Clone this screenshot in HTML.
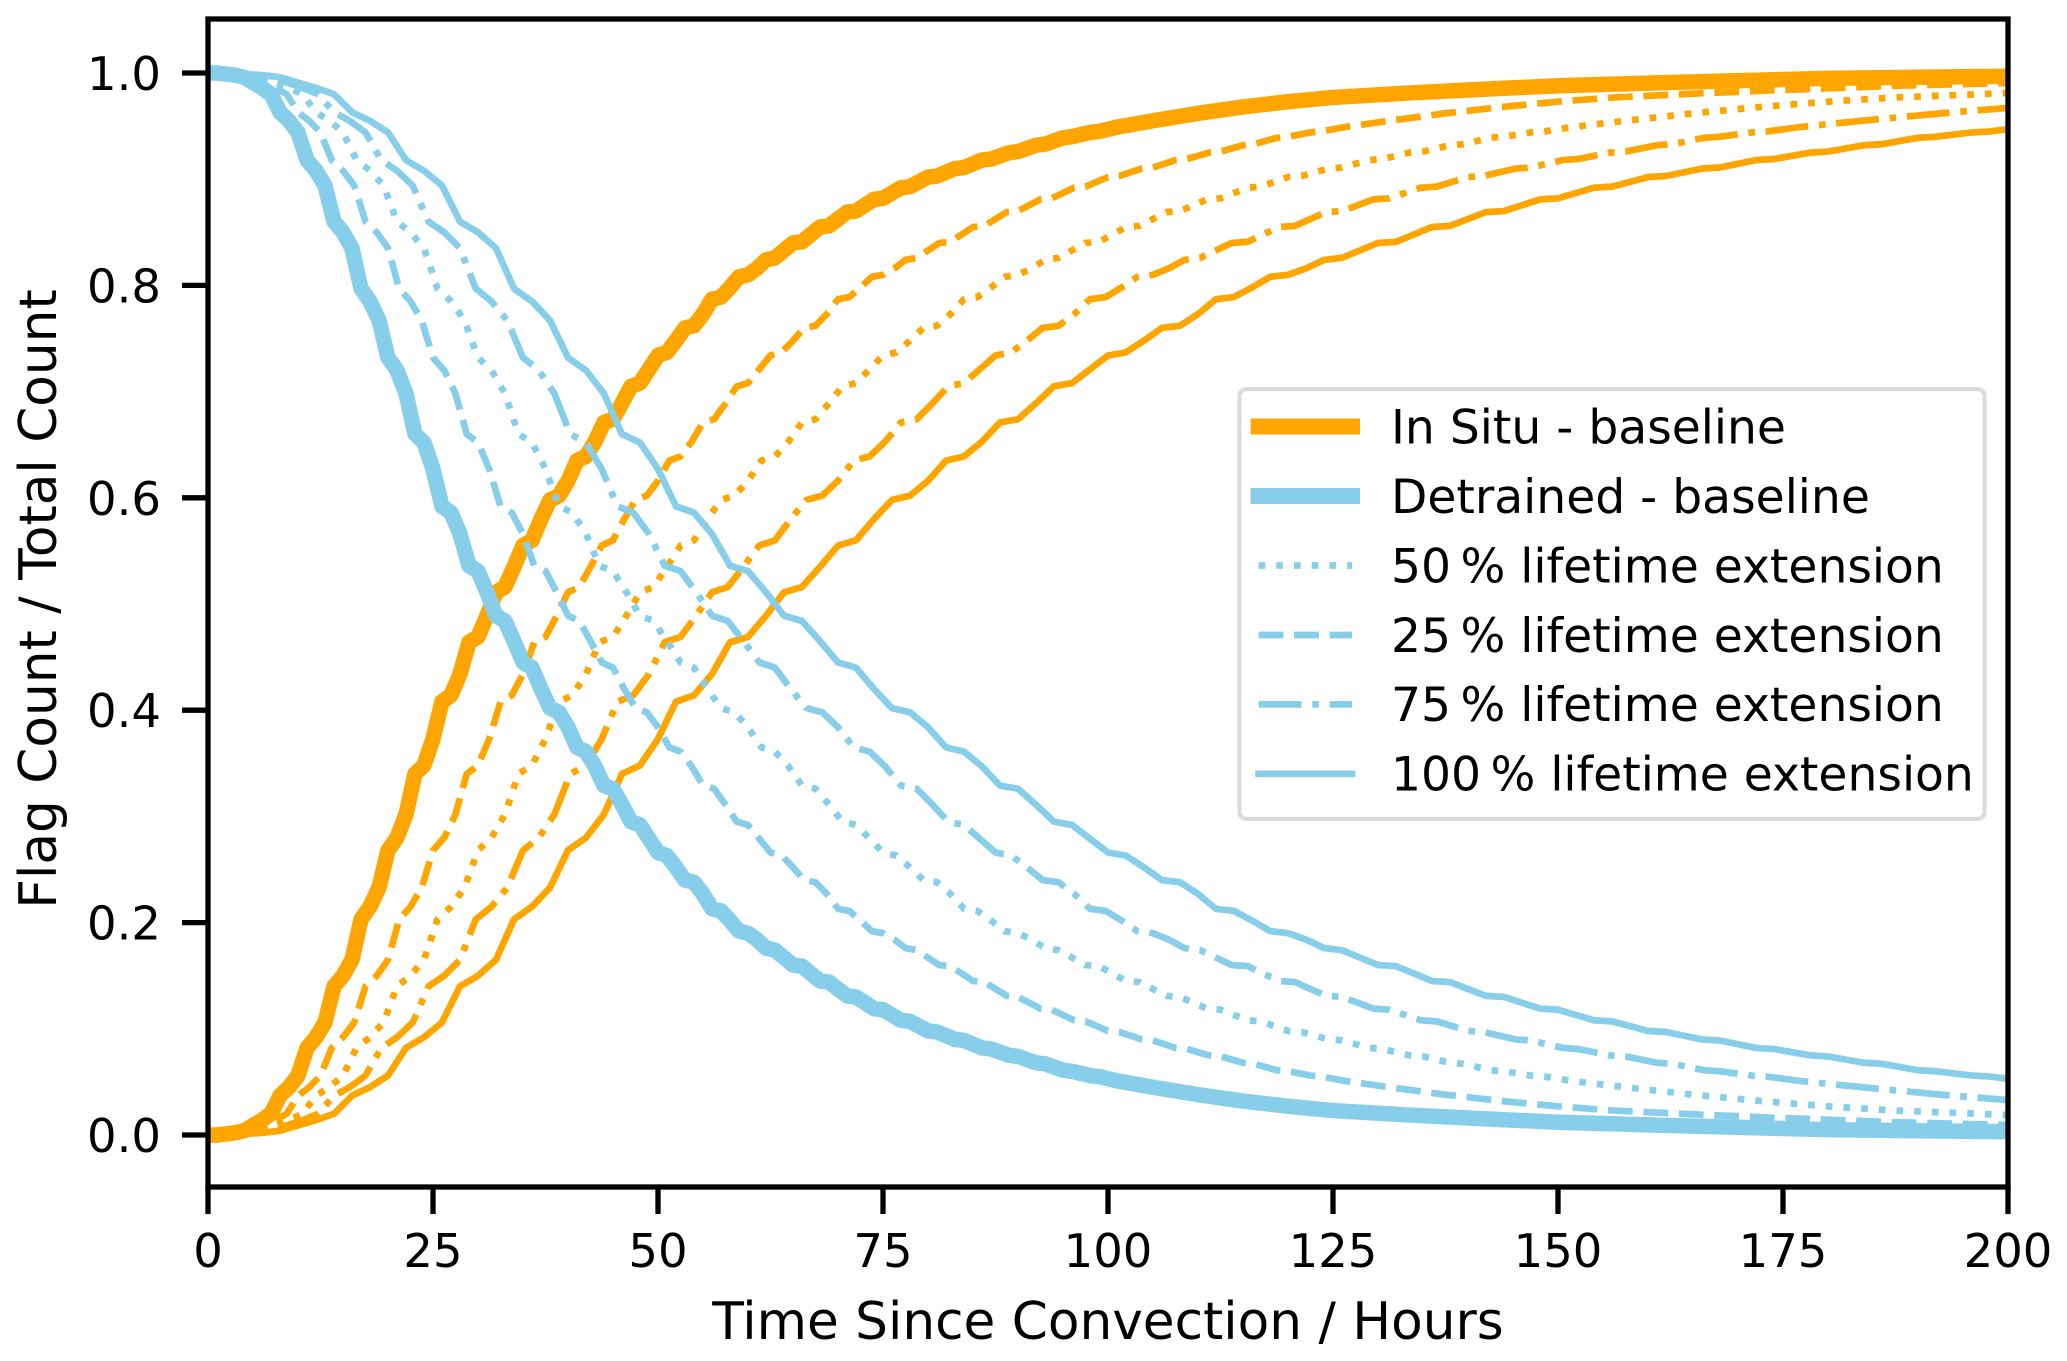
<!DOCTYPE html>
<html lang="en">
<head>
<meta charset="utf-8">
<title>Flag Count / Total Count vs Time Since Convection</title>
<style>
html,body{margin:0;padding:0;background:#fff;}
svg{display:block;}
text{font-family:"DejaVu Sans","Liberation Sans",sans-serif;fill:#000;}
.tick-text{font-size:46.5px;}
.axis-title{font-size:51.7px;}
.legend-text{font-size:47.2px;}
</style>
</head>
<body>
<svg id="chart" xmlns="http://www.w3.org/2000/svg" width="2067" height="1361" viewBox="0 0 2067 1361">
  <defs><clipPath id="plot-clip"><rect x="208" y="19" width="1800" height="1168"></rect></clipPath></defs>
  <rect x="0" y="0" width="2067" height="1361" fill="#fff"></rect>
  <g id="series-layer" clip-path="url(#plot-clip)"></g>
  <g id="tick-layer"></g>
  <rect x="208" y="19" width="1800" height="1168" fill="none" stroke="#000" stroke-width="5.3"></rect>
  <text class="axis-title" x="1108" y="1339" text-anchor="middle">Time Since Convection / Hours</text>
  <text class="axis-title" transform="translate(56,599) rotate(-90)" text-anchor="middle">Flag Count / Total Count</text>
  <g>
    <rect x="1239.5" y="389" width="745" height="430" rx="7" ry="7" fill="#fff" fill-opacity="0.8" stroke="#dadada" stroke-width="4"></rect>
    <g>
      <line x1="1258.6" x2="1352" y1="426.5" y2="426.5" stroke="#ffa500" stroke-width="16" stroke-linecap="square"></line>
      <text class="legend-text" x="1391" y="443.5">In Situ - baseline</text>
    </g>
    <g>
      <line x1="1258.6" x2="1352" y1="496" y2="496" stroke="#87ceeb" stroke-width="16" stroke-linecap="square"></line>
      <text class="legend-text" x="1391" y="513">Detrained - baseline</text>
    </g>
    <g>
      <line x1="1258.6" x2="1352" y1="565.5" y2="565.5" stroke="#87ceeb" stroke-width="6.7" stroke-dasharray="6.7 11"></line>
      <text class="legend-text" x="1391" y="582.4">50&#8201;% lifetime extension</text>
    </g>
    <g>
      <line x1="1258.6" x2="1352" y1="635" y2="635" stroke="#87ceeb" stroke-width="6.7" stroke-dasharray="24.8 10.7"></line>
      <text class="legend-text" x="1391" y="651.8">25&#8201;% lifetime extension</text>
    </g>
    <g>
      <line x1="1258.6" x2="1352" y1="704.4" y2="704.4" stroke="#87ceeb" stroke-width="6.7" stroke-dasharray="42.9 10.7 6.7 10.7"></line>
      <text class="legend-text" x="1391" y="721.2">75&#8201;% lifetime extension</text>
    </g>
    <g>
      <line x1="1258.6" x2="1352" y1="773.8" y2="773.8" stroke="#87ceeb" stroke-width="6.7" stroke-linecap="square"></line>
      <text class="legend-text" x="1391" y="790.6">100&#8201;% lifetime extension</text>
    </g>
  </g>
</svg>
<script>
const xTickLabels = ["0","25","50","75","100","125","150","175","200"];
const yTickLabels = ["0.0","0.2","0.4","0.6","0.8","1.0"];

const hoursBase = [0,1,2,3,4,5,6,7,8,9,10,11,12,13,14,15,16,17,18,19,20,21,22,23,24,25,26,27,28,29,30,31,32,33,34,35,36,37,38,39,40,41,42,43,44,45,46,47,48,49,50,51,52,53,54,55,56,57,58,59,60,61,62,63,65,66,68,69,71,72,74,75,77,78,80,81,83,84,86,87,89,90,92,93,95,96,98,99,101,105,110,115,120,125,133,140,150,160,180,200];
const hours25 = [0,1.25,2.5,3.75,5,6.25,7.5,8.75,10,11.25,12.5,13.75,15,16.25,17.5,18.75,20,21.25,22.5,23.75,25,26.25,27.5,28.75,30,31.25,32.5,33.75,35,36.25,37.5,38.75,40,41.25,42.5,43.75,45,46.25,47.5,48.75,50,51.25,52.5,53.75,55,56.25,57.5,58.75,60,61.25,62.5,63.75,65,66.25,67.5,68.75,70,71.25,72.5,73.75,75,76.25,77.5,78.75,81.25,82.5,85,86.25,88.75,90,92.5,93.75,96.25,97.5,100,101.25,103.75,105,107.5,108.75,111.25,112.5,115,116.25,118.75,120,122.5,123.75,126.25,131.25,137.5,143.75,150,156.25,166.25,175,187.5,200];
const hours50 = [0,1.5,3,4.5,6,7.5,9,10.5,12,13.5,15,16.5,18,19.5,21,22.5,24,25.5,27,28.5,30,31.5,33,34.5,36,37.5,39,40.5,42,43.5,45,46.5,48,49.5,51,52.5,54,55.5,57,58.5,60,61.5,63,64.5,66,67.5,69,70.5,72,73.5,75,76.5,78,79.5,81,82.5,84,85.5,87,88.5,90,91.5,93,94.5,97.5,99,102,103.5,106.5,108,111,112.5,115.5,117,120,121.5,124.5,126,129,130.5,133.5,135,138,139.5,142.5,144,147,148.5,151.5,157.5,165,172.5,180,187.5,199.5,210];
const hours75 = [0,1.75,3.5,5.25,7,8.75,10.5,12.25,14,15.75,17.5,19.25,21,22.75,24.5,26.25,28,29.75,31.5,33.25,35,36.75,38.5,40.25,42,43.75,45.5,47.25,49,50.75,52.5,54.25,56,57.75,59.5,61.25,63,64.75,66.5,68.25,70,71.75,73.5,75.25,77,78.75,80.5,82.25,84,85.75,87.5,89.25,91,92.75,94.5,96.25,98,99.75,101.5,103.25,105,106.75,108.5,110.25,113.75,115.5,119,120.75,124.25,126,129.5,131.25,134.75,136.5,140,141.75,145.25,147,150.5,152.25,155.75,157.5,161,162.75,166.25,168,171.5,173.25,176.75,183.75,192.5,201.25];
const hours100 = [0,2,4,6,8,10,12,14,16,18,20,22,24,26,28,30,32,34,36,38,40,42,44,46,48,50,52,54,56,58,60,62,64,66,68,70,72,74,76,78,80,82,84,86,88,90,92,94,96,98,100,102,104,106,108,110,112,114,116,118,120,122,124,126,130,132,136,138,142,144,148,150,154,156,160,162,166,168,172,174,178,180,184,186,190,192,196,198,202];

const inSituBaseline = [0,0,.001,.002,.004,.009,.014,.020,.037,.045,.056,.082,.092,.106,.140,.150,.165,.203,.215,.233,.268,.280,.302,.340,.348,.373,.408,.414,.434,.464,.469,.489,.511,.516,.535,.555,.560,.580,.598,.602,.616,.635,.639,.653,.671,.674,.689,.705,.708,.721,.734,.737,.748,.760,.762,.773,.787,.789,.798,.808,.810,.816,.824,.826,.840,.841,.855,.856,.869,.870,.881,.882,.892,.893,.902,.903,.910,.911,.918,.919,.925,.926,.932,.933,.939,.940,.944,.945,.949,.955,.962,.968,.973,.977,.981,.984,.988,.9905,.995,.997];
const inSitu25 = [0,0,.001,.002,.004,.009,.014,.020,.037,.045,.056,.082,.092,.106,.140,.150,.165,.203,.215,.233,.268,.280,.302,.340,.348,.373,.408,.414,.434,.464,.469,.489,.511,.516,.535,.555,.560,.580,.598,.602,.616,.635,.639,.653,.671,.674,.689,.705,.708,.721,.734,.737,.748,.760,.762,.773,.787,.789,.798,.808,.810,.816,.824,.826,.840,.841,.855,.856,.869,.870,.881,.882,.892,.893,.902,.903,.910,.911,.918,.919,.925,.926,.932,.933,.939,.940,.944,.945,.949,.955,.962,.968,.973,.977,.981,.984,.988,.9905];
const inSitu50 = [0,0,.001,.002,.004,.009,.014,.020,.037,.045,.056,.082,.092,.106,.140,.150,.165,.203,.215,.233,.268,.280,.302,.340,.348,.373,.408,.414,.434,.464,.469,.489,.511,.516,.535,.555,.560,.580,.598,.602,.616,.635,.639,.653,.671,.674,.689,.705,.708,.721,.734,.737,.748,.760,.762,.773,.787,.789,.798,.808,.810,.816,.824,.826,.840,.841,.855,.856,.869,.870,.881,.882,.892,.893,.902,.903,.910,.911,.918,.919,.925,.926,.932,.933,.939,.940,.944,.945,.949,.955,.962,.968,.973,.977,.981,.984];
const inSitu75 = [0,0,.001,.002,.004,.009,.014,.020,.037,.045,.056,.082,.092,.106,.140,.150,.165,.203,.215,.233,.268,.280,.302,.340,.348,.373,.408,.414,.434,.464,.469,.489,.511,.516,.535,.555,.560,.580,.598,.602,.616,.635,.639,.653,.671,.674,.689,.705,.708,.721,.734,.737,.748,.760,.762,.773,.787,.789,.798,.808,.810,.816,.824,.826,.840,.841,.855,.856,.869,.870,.881,.882,.892,.893,.902,.903,.910,.911,.918,.919,.925,.926,.932,.933,.939,.940,.944,.945,.949,.955,.962,.968];
const inSitu100 = [0,0,.001,.002,.004,.009,.014,.020,.037,.045,.056,.082,.092,.106,.140,.150,.165,.203,.215,.233,.268,.280,.302,.340,.348,.373,.408,.414,.434,.464,.469,.489,.511,.516,.535,.555,.560,.580,.598,.602,.616,.635,.639,.653,.671,.674,.689,.705,.708,.721,.734,.737,.748,.760,.762,.773,.787,.789,.798,.808,.810,.816,.824,.826,.840,.841,.855,.856,.869,.870,.881,.882,.892,.893,.902,.903,.910,.911,.918,.919,.925,.926,.932,.933,.939,.940,.944,.945,.949];

const detrainedBaseline = [1,1,.999,.998,.996,.991,.986,.980,.963,.955,.944,.918,.908,.894,.860,.850,.835,.797,.785,.767,.732,.720,.698,.660,.652,.627,.592,.586,.566,.536,.531,.511,.489,.484,.465,.445,.440,.420,.402,.398,.384,.365,.361,.347,.329,.326,.311,.295,.292,.279,.266,.263,.252,.240,.238,.227,.213,.211,.202,.192,.190,.184,.176,.174,.160,.159,.145,.144,.131,.130,.119,.118,.108,.107,.098,.097,.090,.089,.082,.081,.075,.074,.068,.067,.061,.060,.056,.055,.051,.045,.038,.032,.027,.023,.019,.016,.012,.0095,.005,.003];
const detrained25 = [1,1,.999,.998,.996,.991,.986,.980,.963,.955,.944,.918,.908,.894,.860,.850,.835,.797,.785,.767,.732,.720,.698,.660,.652,.627,.592,.586,.566,.536,.531,.511,.489,.484,.465,.445,.440,.420,.402,.398,.384,.365,.361,.347,.329,.326,.311,.295,.292,.279,.266,.263,.252,.240,.238,.227,.213,.211,.202,.192,.190,.184,.176,.174,.160,.159,.145,.144,.131,.130,.119,.118,.108,.107,.098,.097,.090,.089,.082,.081,.075,.074,.068,.067,.061,.060,.056,.055,.051,.045,.038,.032,.027,.023,.019,.016,.012,.0095];
const detrained50 = [1,1,.999,.998,.996,.991,.986,.980,.963,.955,.944,.918,.908,.894,.860,.850,.835,.797,.785,.767,.732,.720,.698,.660,.652,.627,.592,.586,.566,.536,.531,.511,.489,.484,.465,.445,.440,.420,.402,.398,.384,.365,.361,.347,.329,.326,.311,.295,.292,.279,.266,.263,.252,.240,.238,.227,.213,.211,.202,.192,.190,.184,.176,.174,.160,.159,.145,.144,.131,.130,.119,.118,.108,.107,.098,.097,.090,.089,.082,.081,.075,.074,.068,.067,.061,.060,.056,.055,.051,.045,.038,.032,.027,.023,.019,.016];
const detrained75 = [1,1,.999,.998,.996,.991,.986,.980,.963,.955,.944,.918,.908,.894,.860,.850,.835,.797,.785,.767,.732,.720,.698,.660,.652,.627,.592,.586,.566,.536,.531,.511,.489,.484,.465,.445,.440,.420,.402,.398,.384,.365,.361,.347,.329,.326,.311,.295,.292,.279,.266,.263,.252,.240,.238,.227,.213,.211,.202,.192,.190,.184,.176,.174,.160,.159,.145,.144,.131,.130,.119,.118,.108,.107,.098,.097,.090,.089,.082,.081,.075,.074,.068,.067,.061,.060,.056,.055,.051,.045,.038,.032];
const detrained100 = [1,1,.999,.998,.996,.991,.986,.980,.963,.955,.944,.918,.908,.894,.860,.850,.835,.797,.785,.767,.732,.720,.698,.660,.652,.627,.592,.586,.566,.536,.531,.511,.489,.484,.465,.445,.440,.420,.402,.398,.384,.365,.361,.347,.329,.326,.311,.295,.292,.279,.266,.263,.252,.240,.238,.227,.213,.211,.202,.192,.190,.184,.176,.174,.160,.159,.145,.144,.131,.130,.119,.118,.108,.107,.098,.097,.090,.089,.082,.081,.075,.074,.068,.067,.061,.060,.056,.055,.051];

const xScale = t => 208 + t * 9;
const yScale = v => 1135 - v * 1062;
const SVG_NS = "http://www.w3.org/2000/svg";
const ORANGE = "#ffa500";
const BLUE = "#87ceeb";
const DOTTED = "6.7 11";
const DASHED = "24.8 10.7";
const DASHDOT = "42.9 10.7 6.7 10.7";

function drawLine(name, hours, values, color, width, dash) {
  const path = document.createElementNS(SVG_NS, "path");
  let d = "";
  for (let i = 0; i < values.length; i++) {
    d += (i === 0 ? "M" : "L") + xScale(hours[i]).toFixed(2) + " " + yScale(values[i]).toFixed(2);
  }
  path.setAttribute("d", d);
  path.setAttribute("fill", "none");
  path.setAttribute("stroke", color);
  path.setAttribute("stroke-width", width);
  path.setAttribute("stroke-linejoin", "round");
  if (dash) path.setAttribute("stroke-dasharray", dash);
  
  
  document.getElementById("series-layer").appendChild(path);
}

drawLine("in-situ-100-percent-line", hours100, inSitu100, ORANGE, 6.7, null);
drawLine("in-situ-75-percent-line", hours75, inSitu75, ORANGE, 6.7, DASHDOT);
drawLine("in-situ-25-percent-line", hours25, inSitu25, ORANGE, 6.7, DASHED);
drawLine("in-situ-50-percent-line", hours50, inSitu50, ORANGE, 6.7, DOTTED);
drawLine("in-situ-baseline-line", hoursBase, inSituBaseline, ORANGE, 15.5, null);
drawLine("detrained-100-percent-line", hours100, detrained100, BLUE, 6.7, null);
drawLine("detrained-75-percent-line", hours75, detrained75, BLUE, 6.7, DASHDOT);
drawLine("detrained-25-percent-line", hours25, detrained25, BLUE, 6.7, DASHED);
drawLine("detrained-50-percent-line", hours50, detrained50, BLUE, 6.7, DOTTED);
drawLine("detrained-baseline-line", hoursBase, detrainedBaseline, BLUE, 15.5, null);

const tickLayer = document.getElementById("tick-layer");
xTickLabels.forEach(label => {
  const px = xScale(parseFloat(label));
  const tick = document.createElementNS(SVG_NS, "line");
  tick.setAttribute("x1", px);
  tick.setAttribute("x2", px);
  tick.setAttribute("y1", 1187);
  tick.setAttribute("y2", 1214);
  tick.setAttribute("stroke", "#000");
  tick.setAttribute("stroke-width", 5.3);
  
  
  tickLayer.appendChild(tick);
  const text = document.createElementNS(SVG_NS, "text");
  text.setAttribute("class", "tick-text");
  text.setAttribute("x", px);
  text.setAttribute("y", 1267);
  text.setAttribute("text-anchor", "middle");
  text.textContent = label;
  
  
  tickLayer.appendChild(text);
});
yTickLabels.forEach(label => {
  const py = yScale(parseFloat(label));
  const tick = document.createElementNS(SVG_NS, "line");
  tick.setAttribute("x1", 182);
  tick.setAttribute("x2", 208);
  tick.setAttribute("y1", py);
  tick.setAttribute("y2", py);
  tick.setAttribute("stroke", "#000");
  tick.setAttribute("stroke-width", 5.3);
  
  
  tickLayer.appendChild(tick);
  const text = document.createElementNS(SVG_NS, "text");
  text.setAttribute("class", "tick-text");
  text.setAttribute("x", 161);
  text.setAttribute("y", py + 17);
  text.setAttribute("text-anchor", "end");
  text.textContent = label;
  
  
  tickLayer.appendChild(text);
});
</script>
</body>
</html>
